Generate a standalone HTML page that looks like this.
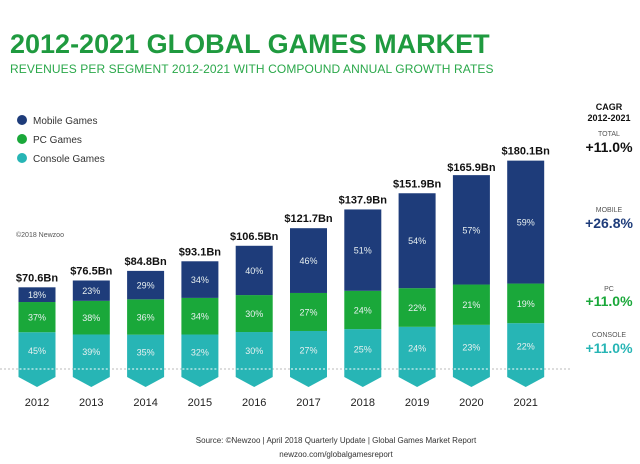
<!DOCTYPE html>
<html><head><meta charset="utf-8"><style>
body{margin:0;background:#fff;font-family:"Liberation Sans",sans-serif;}
#wrap{position:relative;width:640px;height:464px;overflow:hidden;}
</style></head><body>
<div id="wrap">
<svg id="svg" width="640" height="464" xmlns="http://www.w3.org/2000/svg">
<text x="10" y="53" font-size="27" font-weight="bold" fill="#1f9a3f">2012-2021 GLOBAL GAMES MARKET</text>
<text x="10" y="73" font-size="12" fill="#2aa84a" letter-spacing="0.1">REVENUES PER SEGMENT 2012-2021 WITH COMPOUND ANNUAL GROWTH RATES</text>
<g>
<circle cx="22" cy="120" r="5" fill="#1e3c7a"/>
<text x="33" y="124" font-size="10" fill="#333">Mobile Games</text>
<circle cx="22" cy="139" r="5" fill="#1aa83a"/>
<text x="33" y="143" font-size="10" fill="#333">PC Games</text>
<circle cx="22" cy="158" r="5" fill="#27b5b5"/>
<text x="33" y="162" font-size="10" fill="#333">Console Games</text>
</g>
<text x="16" y="237" font-size="7" fill="#555">©2018 Newzoo</text>
<line x1="0" y1="369" x2="570" y2="369" stroke="#bbb" stroke-dasharray="2,2"/>
<g id="bars"></g>
<g text-anchor="middle" font-weight="bold">
<text x="609" y="110" font-size="9" fill="#111">CAGR</text>
<text x="609" y="121" font-size="9" fill="#111">2012-2021</text>
<text x="609" y="136" font-size="7" font-weight="normal" fill="#555">TOTAL</text>
<text x="609" y="152" font-size="14" fill="#111">+11.0%</text>
<text x="609" y="212" font-size="7" font-weight="normal" fill="#555">MOBILE</text>
<text x="609" y="228" font-size="14" fill="#1e3c7a">+26.8%</text>
<text x="609" y="291" font-size="7" font-weight="normal" fill="#555">PC</text>
<text x="609" y="306" font-size="14" fill="#1aa83a">+11.0%</text>
<text x="609" y="337" font-size="7" font-weight="normal" fill="#555">CONSOLE</text>
<text x="609" y="353" font-size="14" fill="#27b5b5">+11.0%</text>
</g>
<text x="336" y="443" font-size="8" fill="#333" text-anchor="middle">Source: ©Newzoo  |  April 2018 Quarterly Update  |  Global Games Market Report</text>
<text x="336" y="457" font-size="8" fill="#333" text-anchor="middle">newzoo.com/globalgamesreport</text>
</svg>
</div>
<script>
const years=["2012","2013","2014","2015","2016","2017","2018","2019","2020","2021"];
const totals=[70.6,76.5,84.8,93.1,106.5,121.7,137.9,151.9,165.9,180.1];
const totalLabels=["$70.6Bn","$76.5Bn","$84.8Bn","$93.1Bn","$106.5Bn","$121.7Bn","$137.9Bn","$151.9Bn","$165.9Bn","$180.1Bn"];
const consolePct=[45,39,35,32,30,27,25,24,23,22];
const pcPct=[37,38,36,34,30,27,24,22,21,19];
const mobilePct=[18,23,29,34,40,46,51,54,57,59];
const NS="http://www.w3.org/2000/svg";
const base=369, scale=1.157, x0=37, step=54.3, bw=37;
const xc=i=>x0+i*step;
const yv=v=>base-v*scale;
const g=document.getElementById('bars');
function mk(tag,attrs){const e=document.createElementNS(NS,tag);for(const k in attrs)e.setAttribute(k,attrs[k]);return e;}
years.forEach((yr,i)=>{
  const cx=xc(i), l=cx-bw/2, t=totals[i];
  const segs=[[consolePct[i],"#27b5b5","console"],[pcPct[i],"#1aa83a","pc"],[mobilePct[i],"#1e3c7a","mobile"]];
  const chev=mk('path',{d:`M${l} ${base} L${l+bw} ${base} L${l+bw} 377 L${cx} 387 L${l} 377 Z`,fill:"#27b5b5"});
  
  
  g.appendChild(chev);
  let acc=0;
  segs.forEach(s=>{
    const v0=t*acc/100, v1=t*(acc+s[0])/100;
    const r=mk('rect',{x:l,y:yv(v1),width:bw,height:yv(v0)-yv(v1),fill:s[1]});
    
    
    g.appendChild(r);
    const tx=mk('text',{x:cx,y:(yv(v0)+yv(v1))/2+3.5,'font-size':9,fill:'#e8f0f0','text-anchor':'middle'});
    tx.textContent=s[0]+'%';
    
    
    g.appendChild(tx);
    acc+=s[0];
  });
  const dl=mk('line',{x1:l+1,y1:base,x2:l+bw-1,y2:base,stroke:'#fff','stroke-dasharray':'2,2'});
  
  
  g.appendChild(dl);
  const lb=mk('text',{x:cx,y:yv(t)-6,'font-size':11,'font-weight':'bold',fill:'#111','text-anchor':'middle'});
  lb.textContent=totalLabels[i];
  
  
  g.appendChild(lb);
  const yl=mk('text',{x:cx,y:406,'font-size':11,fill:'#222','text-anchor':'middle'});
  yl.textContent=yr;
  
  
  g.appendChild(yl);
});
</script>
</body></html>
